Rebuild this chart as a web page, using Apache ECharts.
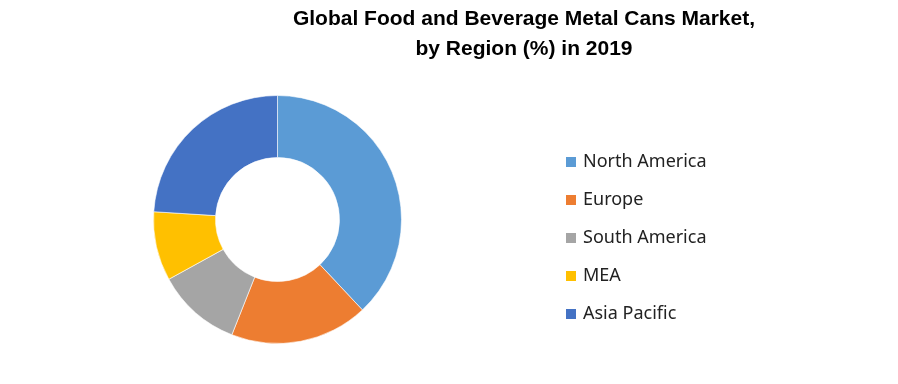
<!DOCTYPE html>
<html>
<head>
<meta charset="utf-8">
<script src="https://cdn.jsdelivr.net/npm/echarts@6/dist/echarts.min.js"></script>
<style>
html,body{margin:0;padding:0;background:#fff;}
#chart{width:898px;height:384px;}
</style>
</head>
<body>
<div id="chart"></div>
<script>
const titleText = 'Global Food and Beverage Metal Cans Market,\nby Region (%) in 2019';
const categories = ['North America', 'Europe', 'South America', 'MEA', 'Asia Pacific'];
const values = [38, 18, 11, 9, 24];
const colors = ['#5B9BD5', '#ED7D31', '#A5A5A5', '#FFC000', '#4472C4'];

const chart = echarts.init(document.getElementById('chart'), null, {renderer: 'canvas'});
chart.setOption({
  animation: false,
  backgroundColor: '#fff',
  color: colors,
  title: {
    text: titleText,
    left: 524,
    top: 4,
    padding: 0,
    textAlign: 'center',
    textStyle: {
      fontFamily: 'Liberation Sans',
      fontWeight: 'bold',
      fontSize: 21,
      lineHeight: 30,
      color: '#000'
    }
  },
  legend: {
    orient: 'vertical',
    left: 564,
    top: 153,
    padding: 0,
    itemWidth: 12,
    itemHeight: 12,
    itemGap: 20,
    icon: 'rect',
    data: categories,
    textStyle: {
      fontFamily: 'Noto Sans',
      fontSize: 18,
      color: '#222',
      padding: [0, 0, 0, 1]
    }
  },
  series: [{
    type: 'pie',
    center: [277.5, 219.5],
    radius: [62, 124],
    startAngle: 90,
    clockwise: true,
    label: {show: false},
    labelLine: {show: false},
    itemStyle: {borderColor: '#fff', borderWidth: 0.6},
    emphasis: {disabled: true},
    data: categories.map((c, i) => ({name: c, value: values[i]}))
  }]
});
</script>
</body>
</html>
